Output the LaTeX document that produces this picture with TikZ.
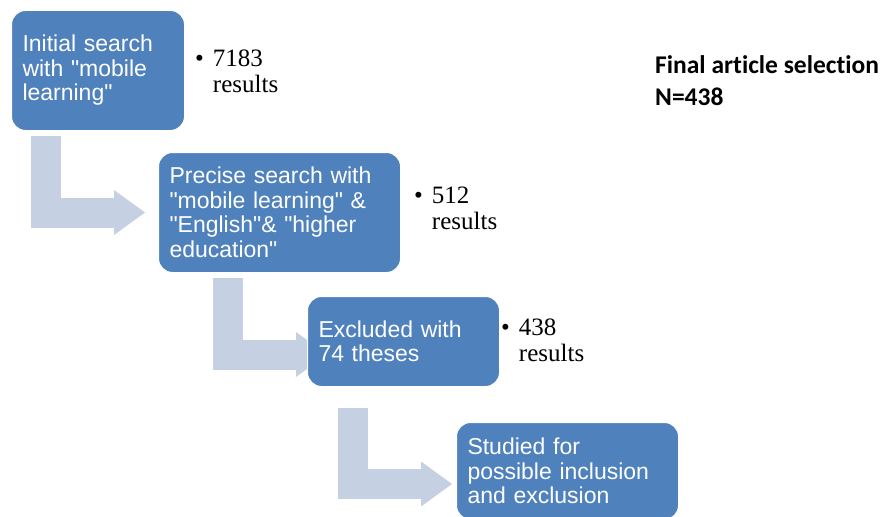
\documentclass[tikz,border=0pt]{standalone}
\usepackage{fontspec}
\setmainfont{Liberation Serif}
\newfontfamily\boxfont{Liberation Sans}
\newfontfamily\notefont[Ligatures=NoCommon]{Carlito}
\usetikzlibrary{arrows.meta,calc,backgrounds}
\definecolor{boxblue}{RGB}{79,129,189}
\definecolor{arrowblue}{RGB}{197,208,227}

\begin{document}
\begin{tikzpicture}[x=1pt, y=-1pt,
    stepbox/.style={fill=boxblue, draw=white, line width=1pt, rounded corners=14pt,
      anchor=north west, align=left, inner xsep=11pt, inner ysep=0pt, text=white,
      font=\boxfont\fontsize{23}{24.5}\selectfont},
    count/.style={anchor=base west, inner sep=0pt, font=\fontsize{25}{26}\selectfont},
    bentarrow/.style={draw=arrowblue, line width=30pt, line join=miter,
      -{Triangle[length=31pt, width=45pt, line width=0pt]}}]
  \useasboundingbox (0,0) rectangle (882,516);

  \node[stepbox, text width=151pt, minimum height=120pt] (initial)  at (11,10)   {Initial search\\with "mobile\\learning"};
  \node[stepbox, text width=220pt, minimum height=120pt] (precise)  at (158,152) {Precise search with\\"mobile learning" \&\\"English"\& "higher\\education"};
  \node[stepbox, text width=170pt, minimum height=90pt]  (excluded) at (307,296) {Excluded with\\74 theses};
  \node[stepbox, text width=200pt, minimum height=97pt]  (studied)  at (456,422) {Studied for\\possible inclusion\\and exclusion};

  \node[count] (initialcount)  at (195,67)  {\begin{tabular}[t]{@{}l@{\hspace{9pt}}l@{}}\textbullet & 7183\\ & results\end{tabular}};
  \node[count] (precisecount)  at (414,203) {\begin{tabular}[t]{@{}l@{\hspace{9pt}}l@{}}\textbullet & 512\\ & results\end{tabular}};
  \node[count] (excludedcount) at (501,335) {\begin{tabular}[t]{@{}l@{\hspace{9pt}}l@{}}\textbullet & 438\\ & results\end{tabular}};

  \node[anchor=base west, inner sep=0pt, font=\notefont\bfseries\fontsize{25.5}{32}\selectfont] (final) at (655,74)
    {\begin{tabular}[t]{@{}l@{}}Final article selection\\N=438\end{tabular}};

  \begin{scope}[on background layer]
    \draw[bentarrow] ($(initial.south west)+(35,5)$)   |- ($(precise.west)+(-13,0)$);
    \draw[bentarrow] ($(precise.south west)+(70,5)$)   |- ($(excluded.west)+(20,13)$);
    \draw[bentarrow] ($(excluded.south west)+(45.5,21)$) |- ($(studied.north west)+(-4,62)$);
  \end{scope}
\end{tikzpicture}
\end{document}
